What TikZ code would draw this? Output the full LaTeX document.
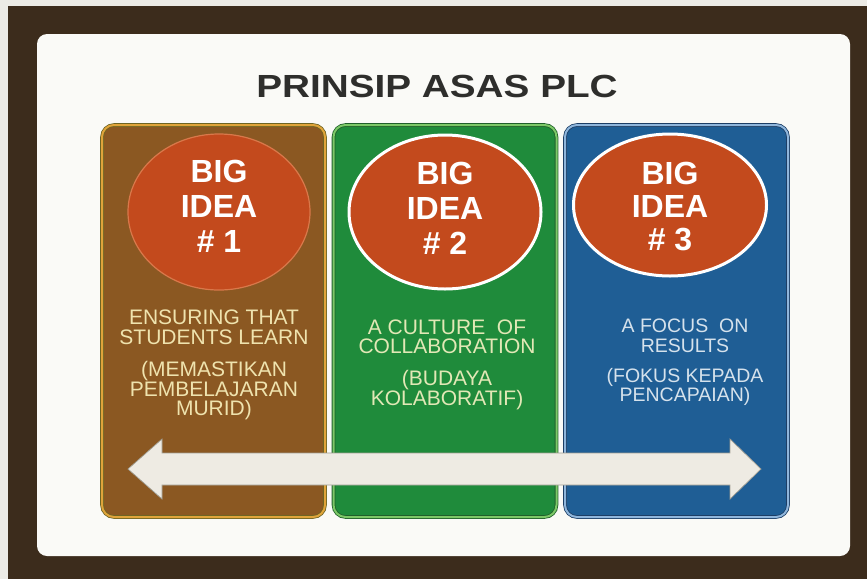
\documentclass[tikz,border=0pt]{standalone}
\usepackage{fontspec}
\setmainfont{Liberation Sans}
\usetikzlibrary{shapes.geometric,calc}
\definecolor{outerbg}{HTML}{ECEBE6}
\definecolor{framecol}{HTML}{3C2C1C}
\definecolor{panel}{HTML}{FAFAF7}
\definecolor{titlecol}{HTML}{2E2E2C}
\definecolor{brownfill}{HTML}{8B5822}
\definecolor{brownedge}{HTML}{6E6424}
\definecolor{browngold}{HTML}{E0A43A}
\definecolor{greenfill}{HTML}{1F8B3B}
\definecolor{greenedge}{HTML}{1F5F2A}
\definecolor{greenlight}{HTML}{7CC867}
\definecolor{bluefill}{HTML}{1F5E95}
\definecolor{blueedge}{HTML}{1C3E66}
\definecolor{bluelight}{HTML}{8FB6DC}
\definecolor{ellfill}{HTML}{C34A1D}
\definecolor{ellbrownedge}{HTML}{D9784A}
\definecolor{creamtxt}{HTML}{EFE3AE}
\definecolor{greentxt}{HTML}{E2E8B6}
\definecolor{bluetxt}{HTML}{D6E2EC}
\definecolor{arrowfill}{HTML}{EEEBE3}
\definecolor{arrowedge}{HTML}{A09D92}
\tikzset{
  colbox/.style={rectangle, rounded corners=12pt, line width=0.8pt, double distance=2pt,
    inner sep=0pt, minimum width=223pt, minimum height=392pt},
  bigell/.style={ellipse, inner sep=0pt, fill=ellfill},
  bigtxt/.style={align=center, text=white, font=\bfseries\fontsize{32}{35}\selectfont, inner sep=0pt},
  coltxt/.style={align=center, inner sep=0pt},
  titletxt/.style={text=titlecol, font=\bfseries\fontsize{32}{36}\selectfont, inner sep=0pt},
  blockarrow/.style={fill=arrowfill, draw=arrowedge, line width=0.7pt, line join=miter}
}
\begin{document}
\begin{tikzpicture}[x=1pt,y=-1pt]
\useasboundingbox (0,0) rectangle (867,579);
\fill[outerbg] (0,0) rectangle (867,579);
\fill[framecol] (8,6) rectangle (867,579);
\fill[panel, rounded corners=10pt] (37,34) rectangle (850,556);

\node[titletxt] (title) at (437,86.5) {\scalebox{1.21}[1]{PRINSIP ASAS PLC}};

\node[colbox, fill=brownfill, draw=brownedge, double=browngold] (c1) at (213.5,321) {};
\node[colbox, fill=greenfill, draw=greenedge, double=greenlight] (c2) at (445,321) {};
\node[colbox, fill=bluefill, draw=blueedge, double=bluelight] (c3) at (676.5,321) {};

\node[bigell, draw=ellbrownedge, line width=1.2pt, minimum width=182pt, minimum height=156pt] (e1) at (219,212) {};
\node[bigell, draw=white, line width=3pt, minimum width=192pt, minimum height=154pt] (e2) at (445,212) {};
\node[bigell, draw=white, line width=3pt, minimum width=193pt, minimum height=142pt] (e3) at (670,205) {};

\node[bigtxt] (t1) at (219,206) {BIG\\IDEA\\\# 1};
\node[bigtxt] (t2) at (445,208) {BIG\\IDEA\\\# 2};
\node[bigtxt, font=\bfseries\fontsize{32}{33}\selectfont] (t3) at (670,206.5) {BIG\\IDEA\\\# 3};

\node[coltxt, text=creamtxt, font=\fontsize{21}{19.5}\selectfont] (s1) at (214,365)
  {ENSURING THAT\\STUDENTS LEARN\\[13pt](MEMASTIKAN\\PEMBELAJARAN\\MURID)};
\node[coltxt, text=greentxt, font=\fontsize{21}{19.5}\selectfont] (s2) at (447,365)
  {A CULTURE\ \ OF\\COLLABORATION\\[12pt](BUDAYA\\KOLABORATIF)};
\node[coltxt, text=bluetxt, font=\fontsize{19.5}{19.5}\selectfont] (s3) at (685,362.5)
  {A FOCUS\ \ ON\\RESULTS\\[10.5pt](FOKUS KEPADA\\PENCAPAIAN)};

\coordinate (aL) at (128,469);
\coordinate (aR) at (761,469);
\draw[blockarrow] (aL) -- ($(aL)+(34,-30)$) -- ($(aL)+(34,-16)$) -- ($(aR)+(-31,-16)$)
  -- ($(aR)+(-31,-30)$) -- (aR) -- ($(aR)+(-31,30)$) -- ($(aR)+(-31,16)$)
  -- ($(aL)+(34,16)$) -- ($(aL)+(34,30)$) -- cycle;
\end{tikzpicture}
\end{document}
